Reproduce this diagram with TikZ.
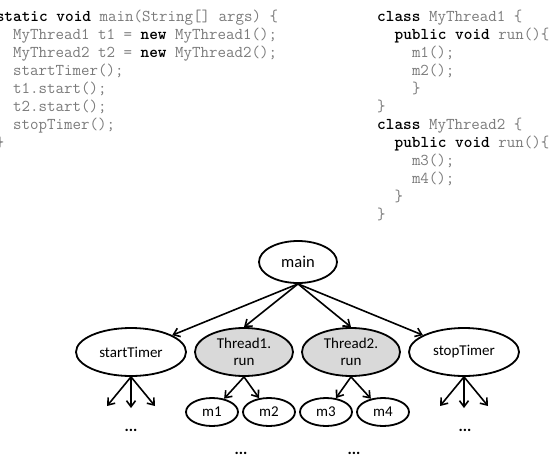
\documentclass[tikz,border=0pt]{standalone}
\usepackage{fontspec}
\setmainfont{Carlito}
\usetikzlibrary{shapes.geometric,arrows.meta,calc}
\definecolor{codegray}{HTML}{7A7A7A}
\definecolor{threadfill}{HTML}{D9D9D9}
\begin{document}
\begin{tikzpicture}[x=1pt,y=-1pt,
  codeline/.style={anchor=base west,inner sep=0pt,font=\ttfamily\fontsize{16.5}{18}\selectfont,text=codegray},
  oval/.style={ellipse,draw=black,line width=1.8pt,inner sep=0pt,font=\fontsize{15}{17}\selectfont,align=center},
  thr/.style={oval,fill=threadfill},
  arr/.style={line width=1.6pt,-{Straight Barb[length=6pt,width=9pt,line width=1.6pt]}},
  dots/.style={font=\bfseries\fontsize{16}{18}\selectfont,inner sep=0pt}]
\useasboundingbox (0,0) rectangle (558,461);
\newcommand{\kw}[1]{\textbf{\textcolor{black}{#1}}}
% left code
\node[codeline] (l1) at (-4.4,21.5) {\kw{static void} main(String[] args) \{};
\node[codeline] (l2) at (13,39.5) {MyThread1 t1 = \kw{new} MyThread1();};
\node[codeline] (l3) at (13,57.5) {MyThread2 t2 = \kw{new} MyThread2();};
\node[codeline] (l4) at (13,75.5) {startTimer();};
\node[codeline] (l5) at (13,93.5) {t1.start();};
\node[codeline] (l6) at (13,111.5) {t2.start();};
\node[codeline] (l7) at (13,129.5) {stopTimer();};
\node[codeline] (l8) at (-4.4,147.5) {\}};
% right code
\node[codeline] (r1) at (377,21.5) {\kw{class} MyThread1 \{};
\node[codeline] (r2) at (394.4,39.5) {\kw{public void} run()\{};
\node[codeline] (r3) at (411.8,57.5) {m1();};
\node[codeline] (r4) at (411.8,75.5) {m2();};
\node[codeline] (r5) at (411.8,93.5) {\}};
\node[codeline] (r6) at (377,111.5) {\}};
\node[codeline] (r7) at (377,129.5) {\kw{class} MyThread2 \{};
\node[codeline] (r8) at (394.4,147.5) {\kw{public void} run()\{};
\node[codeline] (r9) at (411.8,165.5) {m3();};
\node[codeline] (r10) at (411.8,183.5) {m4();};
\node[codeline] (r11) at (394.4,201.5) {\}};
\node[codeline] (r12) at (377,219.5) {\}};
% tree
\node[oval,minimum width=78pt,minimum height=42pt,font=\fontsize{16.5}{18}\selectfont] (main) at (298,262) {main};
\node[oval,minimum width=110pt,minimum height=48pt] (st) at (131,352) {startTimer};
\node[thr,minimum width=98pt,minimum height=48pt] (t1) at (244,352) {Thread1.\\run};
\node[thr,minimum width=98pt,minimum height=48pt] (t2) at (351,352) {Thread2.\\run};
\node[oval,minimum width=110pt,minimum height=48pt] (sp) at (464,352) {stopTimer};
\node[oval,minimum width=52pt,minimum height=28pt] (m1) at (212,412) {m1};
\node[oval,minimum width=52pt,minimum height=28pt] (m2) at (269,412) {m2};
\node[oval,minimum width=52pt,minimum height=28pt] (m3) at (326,412) {m3};
\node[oval,minimum width=52pt,minimum height=28pt] (m4) at (383,412) {m4};
\draw[arr] (main.south) -- (st);
\draw[arr] (main.south) -- (t1.north);
\draw[arr] (main.south) -- (t2.north);
\draw[arr] (main.south) -- (sp);
\draw[arr] (t1.south) -- (m1);
\draw[arr] (t1.south) -- (m2);
\draw[arr] (t2.south) -- (m3);
\draw[arr] (t2.south) -- (m4);
\coordinate (sa) at (107,406);
\coordinate (sb) at (131,408);
\coordinate (sc) at (155,406);
\coordinate (pa) at (440,406);
\coordinate (pb) at (464,408);
\coordinate (pc) at (488,406);
\draw[arr] (st.south) -- (sa);
\draw[arr] (st.south) -- (sb);
\draw[arr] (st.south) -- (sc);
\draw[arr] (sp.south) -- (pa);
\draw[arr] (sp.south) -- (pb);
\draw[arr] (sp.south) -- (pc);
\node[dots] (d1) at (131,430) {...};
\node[dots] (d2) at (465,430) {...};
\node[dots] (d3) at (241,453) {...};
\node[dots] (d4) at (354,453) {...};
\end{tikzpicture}
\end{document}
